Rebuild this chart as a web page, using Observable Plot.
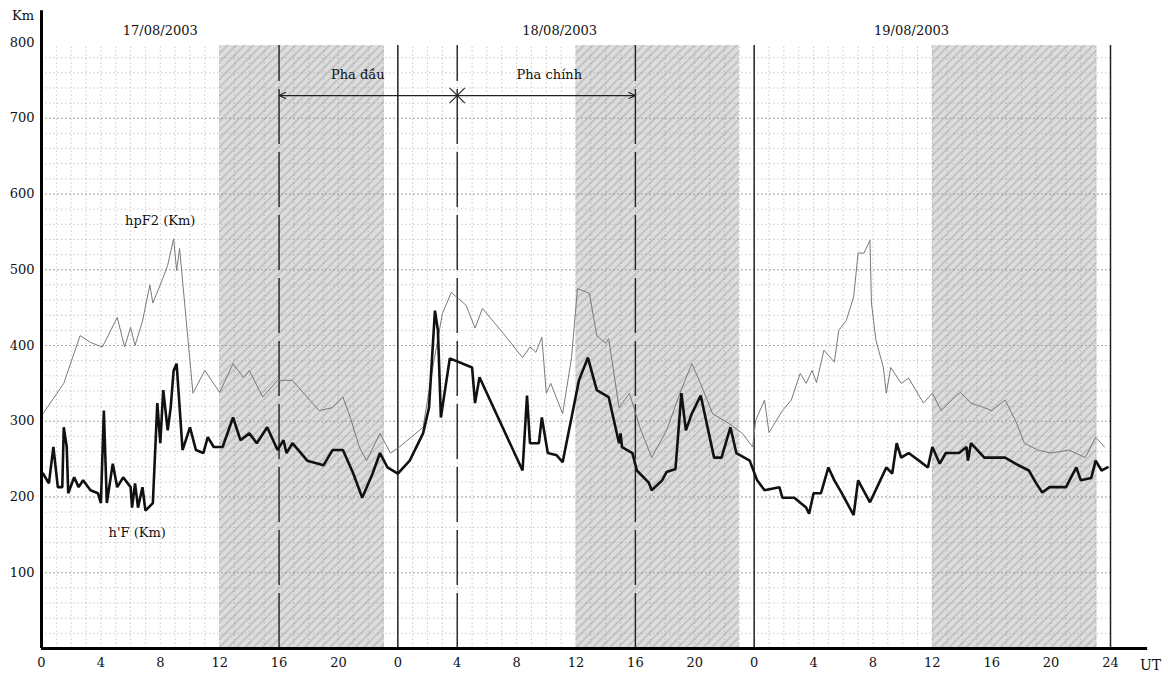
<!DOCTYPE html>
<html>
<head>
<meta charset="utf-8">
<script src="https://cdn.jsdelivr.net/npm/d3@7"></script>
<script src="https://cdn.jsdelivr.net/npm/@observablehq/plot@0.6"></script>
<style>
  html, body { margin: 0; padding: 0; background: #fff; }
  #chart svg { display: block; }
</style>
</head>
<body>
<div id="chart"></div>
<script>
// Hours are counted from 17/08/2003 00 UT (0–72 h over three days).

// hpF2 (thin grey curve), km
const hpF2Hours = [0.1, 1.5, 2.6, 3.3, 4.1, 5.1, 5.6, 6.0, 6.3, 6.8, 7.3, 7.5, 8.2, 8.5, 8.9, 9.1, 9.3,
  10.2, 11.0, 12.0, 12.9, 13.6, 14.0, 14.9, 15.9, 16.9, 18.7, 19.6, 20.3, 20.8, 21.4, 21.9, 22.8, 23.5,
  24.1, 25.7, 26.4, 27.0, 27.6, 28.6, 29.2, 29.7, 31.1, 32.4, 32.9, 33.3, 33.7, 34.0, 34.3, 35.1, 35.7,
  36.1, 36.9, 37.4, 38.0, 38.2, 38.9, 39.6, 40.3, 41.1, 42.1, 43.0, 43.8, 44.3, 45.2, 46.3, 47.2, 47.9,
  48.1, 48.7, 49.0, 49.9, 50.5, 51.1, 51.5, 51.9, 52.2, 52.7, 53.4, 53.7, 54.2, 54.7, 55.0, 55.4, 55.8,
  55.9, 56.2, 56.7, 56.9, 57.2, 57.9, 58.4, 59.4, 60.0, 60.6, 61.3, 61.9, 62.6, 63.5, 64.0, 64.9, 65.6,
  66.2, 67.1, 68.0, 69.2, 70.3, 71.0, 71.6];
const hpF2Km = [310, 350, 413, 404, 398, 437, 398, 424, 400, 432, 480, 456, 490, 506, 541, 499, 528,
  337, 367, 338, 376, 358, 367, 332, 354, 354, 314, 318, 332, 305, 266, 248, 284, 258,
  266, 292, 376, 442, 470, 453, 423, 449, 416, 384, 398, 391, 411, 337, 350, 310, 384,
  475, 469, 413, 403, 409, 318, 337, 292, 252, 288, 337, 376, 354, 310, 297, 284, 266,
  301, 328, 285, 314, 328, 363, 350, 367, 351, 394, 378, 420, 433, 464, 522, 522, 539,
  456, 407, 371, 337, 371, 350, 357, 324, 337, 314, 328, 338, 324, 318, 314, 328, 301,
  271, 262, 258, 262, 252, 279, 266];

// h'F (thick black curve), km
const hfHours = [0.1, 0.5, 0.8, 1.1, 1.4, 1.5, 1.7, 1.8, 2.2, 2.5, 2.8, 3.3, 3.8, 4.0, 4.2, 4.4, 4.8,
  5.1, 5.5, 6.0, 6.1, 6.3, 6.5, 6.8, 7.0, 7.5, 7.8, 8.0, 8.2, 8.5, 8.7, 8.9, 9.1, 9.5, 10.0, 10.4, 10.9,
  11.2, 11.6, 12.2, 12.9, 13.4, 14.0, 14.5, 15.2, 15.9, 16.3, 16.5, 16.9, 17.9, 19.0, 19.6, 20.3, 21.0,
  21.6, 22.3, 22.8, 23.3, 24.0, 24.8, 25.7, 26.1, 26.5, 26.7, 26.9, 27.5, 29.0, 29.2, 29.5, 32.4, 32.7,
  32.9, 33.5, 33.7, 34.1, 34.7, 35.1, 36.2, 36.8, 37.4, 38.2, 38.9, 39.0, 39.1, 39.8, 40.1, 40.9, 41.1,
  41.8, 42.1, 42.7, 43.1, 43.4, 43.8, 44.4, 45.3, 45.8, 46.4, 46.8, 47.7, 48.2, 48.7, 49.7, 49.9, 50.7,
  51.5, 51.7, 52.0, 52.5, 53.0, 53.4, 53.9, 54.7, 55.0, 55.8, 56.4, 56.9, 57.3, 57.6, 57.9, 58.4, 59.1,
  59.7, 60.0, 60.5, 60.9, 61.8, 62.3, 62.4, 62.6, 63.5, 64.9, 65.6, 66.5, 67.0, 67.4, 67.9, 69.0, 69.7,
  70.0, 70.7, 71.0, 71.4, 71.8];
const hfKm = [231, 218, 266, 213, 213, 292, 266, 205, 226, 213, 222, 209, 205, 192, 314, 192, 244,
  213, 226, 213, 186, 218, 186, 213, 182, 192, 324, 271, 341, 288, 318, 367, 376, 262, 292, 262, 258,
  279, 266, 266, 305, 275, 284, 271, 292, 262, 275, 258, 271, 248, 242, 262, 262, 231,
  199, 231, 258, 239, 231, 248, 284, 318, 446, 420, 305, 383, 371, 324, 358, 235, 334,
  271, 271, 305, 258, 255, 246, 354, 384, 341, 332, 271, 284, 266, 258, 235, 219, 209,
  222, 233, 237, 337, 288, 310, 334, 252, 252, 292, 258, 248, 222, 209, 213, 199, 199,
  186, 178, 205, 205, 239, 222, 205, 176, 222, 193, 218, 239, 231, 271, 252, 258, 248,
  239, 266, 244, 258, 258, 266, 248, 271, 252, 252, 244, 235, 218, 206, 213, 213, 239,
  222, 225, 248, 235, 239];

// Night-time (shaded) intervals, UT hours
const nightStart = [12, 36, 60];
const nightEnd = [23.1, 47.0, 71.1];

// Day boundaries and storm-phase markers
const dayBounds = [24, 48, 72];
const phaseBounds = [16, 28, 40];
const phaseNames = ["Pha đầu", "Pha chính"];
const phaseLabelHours = [21.3, 34.2];
const dayNames = ["17/08/2003", "18/08/2003", "19/08/2003"];
const dayLabelHours = [8.0, 34.9, 58.6];

// Axis ticks
const xTicks = d3.range(0, 73, 4);
const yTicks = [100, 200, 300, 400, 500, 600, 700, 800];

const hpF2 = hpF2Hours.map((h, i) => ({h, km: hpF2Km[i]}));
const hf = hfHours.map((h, i) => ({h, km: hfKm[i]}));
const nights = nightStart.map((s, i) => ({s, e: nightEnd[i]}));
const phases = phaseNames.map((name, i) => ({name, h: phaseLabelHours[i]}));
const days = dayNames.map((name, i) => ({name, h: dayLabelHours[i]}));

const TOP = 796;      // top of the drawing frame, km units
const ARROW_Y = 730;

const chart = Plot.plot({
  width: 1168,
  height: 678,
  marginLeft: 41,
  marginRight: 58,
  marginTop: 42,
  marginBottom: 30,
  style: {fontFamily: "'DejaVu Serif', serif", fontSize: "13px", color: "#111", background: "#fff"},
  x: {domain: [0, 72], ticks: xTicks, tickFormat: d => d === 72 ? "24" : String(d % 24),
      tickSize: 0, tickPadding: 9, label: null},
  y: {domain: [0, 800], ticks: yTicks, tickSize: 0, tickPadding: 7, label: null},
  marks: [
    // night shading
    Plot.rect(nights, {x1: "s", x2: "e", y1: 0, y2: TOP, fill: "url(#night)"}),
    // fine graph-paper grid
    Plot.ruleX(d3.range(1, 72), {y1: 0, y2: TOP, stroke: "#9a9a9a", strokeOpacity: 0.65,
      strokeWidth: 0.8, strokeDasharray: "1.5,2.5"}),
    Plot.ruleY(d3.range(20, 800, 20), {x1: 0, x2: 72, stroke: "#9a9a9a", strokeOpacity: 0.65,
      strokeWidth: 0.8, strokeDasharray: "1.5,2.5"}),
    Plot.ruleY(d3.range(100, 800, 100), {x1: 0, x2: 72, stroke: "#999", strokeOpacity: 0.7,
      strokeWidth: 1, strokeDasharray: "2,2"}),
    // day boundaries
    Plot.ruleX(dayBounds, {y1: 0, y2: TOP, stroke: "#222", strokeWidth: 1.5}),
    // storm phase boundaries
    Plot.ruleX(phaseBounds, {y1: 0, y2: TOP, stroke: "#222", strokeWidth: 1.4, strokeDasharray: "55,8"}),
    // phase arrows
    Plot.arrow([{a: 28, b: 16}, {a: 28, b: 40}], {x1: "a", x2: "b", y1: ARROW_Y, y2: ARROW_Y,
      stroke: "#222", strokeWidth: 1.2, headLength: 9, headAngle: 50}),
    Plot.dot([28], {x: d => d, y: ARROW_Y, symbol: "times", r: 7, stroke: "#222", strokeWidth: 1.1}),
    Plot.text(phases, {x: "h", y: 757, text: "name", fontSize: 13, fill: "#111"}),
    // curves
    Plot.line(hpF2, {x: "h", y: "km", stroke: "#7a7a7a", strokeWidth: 1}),
    Plot.line(hf, {x: "h", y: "km", stroke: "#111", strokeWidth: 2.6, strokeLinejoin: "miter"}),
    // curve labels
    Plot.text(["hpF2 (Km)"], {x: 8.0, y: 564, text: d => d, fontSize: 13, fill: "#111"}),
    Plot.text(["h'F (Km)"], {x: 6.45, y: 153, text: d => d, fontSize: 13, fill: "#111"}),
    // date labels
    Plot.text(days, {x: "h", y: 816, text: "name", fontSize: 13, fill: "#111"}),
    // axis lines
    Plot.ruleX([0], {y1: 0, y2: 842, stroke: "#000", strokeWidth: 3}),
    Plot.ruleY([0], {x1: 0, x2: 74.5, stroke: "#000", strokeWidth: 3}),
    Plot.text(["Km"], {x: -1.25, y: 835, text: d => d, fontSize: 13, fill: "#111"}),
    Plot.text(["UT"], {x: 74.7, y: -22, text: d => d, fontSize: 14, fill: "#111"})
  ]
});

// hatched fill used for the night-time bands
const defs = document.createElementNS("http://www.w3.org/2000/svg", "defs");
defs.innerHTML = `
  <pattern id="night" patternUnits="userSpaceOnUse" width="6" height="6" patternTransform="rotate(45)">
    <rect width="6" height="6" fill="#dddddd"></rect>
    <line x1="1" y1="0" x2="1" y2="6" stroke="#b2b2b2" stroke-width="1.2"></line>
  </pattern>`;
chart.insertBefore(defs, chart.firstChild);

document.getElementById("chart").appendChild(chart);
</script>
</body>
</html>
